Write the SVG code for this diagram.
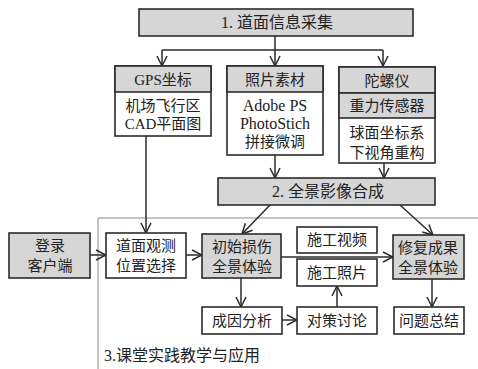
<svg xmlns="http://www.w3.org/2000/svg" width="478" height="369" viewBox="0 0 478 369">
<style>
.b{stroke:#2b2b2b;stroke-width:1.6;fill:#fff}
.g{fill:#d6d6d6}
.t{font-family:"Liberation Serif","Noto Sans CJK SC",serif;font-size:15px;fill:#222;text-anchor:middle}
.c{stroke:#2b2b2b;stroke-width:1.5;fill:none}
.a{marker-end:url(#ah)}
</style>
<defs>
<marker id="ah" viewBox="0 0 12 12" refX="11" refY="6" markerWidth="12" markerHeight="12" markerUnits="userSpaceOnUse" orient="auto">
<path d="M1,1 L11,6 L1,11" fill="none" stroke="#2b2b2b" stroke-width="1.5"/>
</marker>
</defs>
<rect width="478" height="369" fill="#fff"/>
<g id="region3">
<path d="M98,369 V218 H478" fill="none" stroke="#888" stroke-width="1"/>
<text class="t" x="104" y="361" style="text-anchor:start;font-size:16px">3.课堂实践教学与应用</text>
</g>
<g id="connectors">
<path class="c a" d="M275,36 V66"/>
<path class="c" d="M162,50 H383"/>
<path class="c a" d="M162,50 V66"/>
<path class="c a" d="M383,50 V66"/>
<path class="c a" d="M146,136 V233"/>
<path class="c a" d="M275,155 V178"/>
<path class="c a" d="M384,163 V178"/>
<path class="c a" d="M270,205 L242,234"/>
<path class="c a" d="M400,205 L433,235"/>
<path class="c a" d="M90,255 H106"/>
<path class="c a" d="M186,255 H202"/>
<path class="c a" d="M281,257 H393"/>
<path class="c a" d="M241,278 V307"/>
<path class="c a" d="M282,320 H297"/>
<path class="c a" d="M337,307 V286"/>
<path class="c a" d="M432,279 V307"/>
</g>
<g id="n1">
<rect class="b g" x="139" y="9" width="274" height="27"/>
<text class="t" x="277" y="28" style="font-size:16px">1. 道面信息采集</text>
</g>
<g id="gps">
<rect class="b" x="115" y="66" width="96" height="70"/>
<rect class="b g" x="115" y="66" width="96" height="26"/>
<text class="t" x="163" y="85">GPS坐标</text>
<text class="t" x="163" y="111">机场飞行区</text>
<text class="t" x="163" y="129">CAD平面图</text>
</g>
<g id="photo">
<rect class="b" x="227" y="66" width="96" height="89"/>
<rect class="b g" x="227" y="66" width="96" height="26"/>
<text class="t" x="275" y="85">照片素材</text>
<text class="t" x="275" y="111" style="font-size:16px">Adobe PS</text>
<text class="t" x="275" y="129" style="font-size:16px">PhotoStich</text>
<text class="t" x="275" y="147">拼接微调</text>
</g>
<g id="gyro">
<rect class="b" x="339" y="67" width="96" height="96"/>
<rect class="b g" x="339" y="67" width="96" height="26"/>
<rect class="b g" x="339" y="93" width="96" height="25"/>
<text class="t" x="387" y="86">陀螺仪</text>
<text class="t" x="387" y="111">重力传感器</text>
<text class="t" x="387" y="138">球面坐标系</text>
<text class="t" x="387" y="158">下视角重构</text>
</g>
<g id="n2">
<rect class="b g" x="218" y="178" width="217" height="27"/>
<text class="t" x="328" y="197" style="font-size:16px">2. 全景影像合成</text>
</g>
<g id="login">
<rect class="b g" x="9" y="233" width="81" height="45"/>
<text class="t" x="50" y="251">登录</text>
<text class="t" x="50" y="271">客户端</text>
</g>
<g id="select">
<rect class="b" x="106" y="233" width="80" height="45"/>
<text class="t" x="146" y="251">道面观测</text>
<text class="t" x="146" y="271">位置选择</text>
</g>
<g id="initial">
<rect class="b g" x="202" y="234" width="79" height="44"/>
<text class="t" x="242" y="252">初始损伤</text>
<text class="t" x="242" y="272">全景体验</text>
</g>
<g id="video">
<rect class="b" x="297" y="227" width="80" height="26"/>
<text class="t" x="337" y="245">施工视频</text>
</g>
<g id="photos">
<rect class="b" x="297" y="259" width="80" height="27"/>
<text class="t" x="337" y="278">施工照片</text>
</g>
<g id="repair">
<rect class="b g" x="393" y="235" width="71" height="44"/>
<text class="t" x="428" y="253">修复成果</text>
<text class="t" x="428" y="273">全景体验</text>
</g>
<g id="cause">
<rect class="b" x="202" y="307" width="80" height="27"/>
<text class="t" x="242" y="326">成因分析</text>
</g>
<g id="measure">
<rect class="b" x="297" y="307" width="80" height="27"/>
<text class="t" x="337" y="326">对策讨论</text>
</g>
<g id="summary">
<rect class="b" x="394" y="307" width="70" height="27"/>
<text class="t" x="429" y="326">问题总结</text>
</g>
</svg>
